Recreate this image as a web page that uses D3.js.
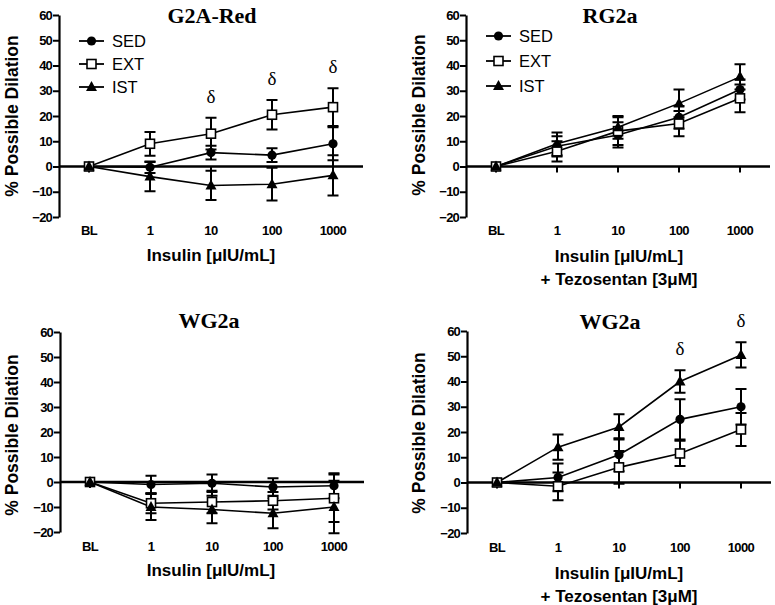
<!DOCTYPE html>
<html><head><meta charset="utf-8">
<script src="https://cdnjs.cloudflare.com/ajax/libs/d3/7.8.5/d3.min.js"></script>
<style>body{margin:0;background:#fff}svg{display:block}</style>
</head><body>
<svg id="c" width="775" height="605"></svg>
<script>
const categories = ["BL","1","10","100","1000"];
const yTicks = [-20,-10,0,10,20,30,40,50,60];
const seriesNames = ["SED","EXT","IST"];

// Panel A: G2A-Red
const aSED = [0, -0.3, 5.5, 4.5, 9];      const aSEDerr = [1, 2.3, 2.7, 2.7, 6.5];
const aEXT = [0, 9, 13, 20.5, 23.5];      const aEXTerr = [1, 4.7, 6.3, 5.8, 7.5];
const aIST = [0, -4, -7.5, -7, -3.5];     const aISTerr = [1, 5.8, 5.8, 6.5, 8];
const aDelta = ["10","100","1000"];

// Panel B: RG2a
const bSED = [0, 8, 12.5, 19.5, 30.5];    const bSEDerr = [1, 4, 5, 4.5, 4];
const bEXT = [0, 6, 14, 17, 27];          const bEXTerr = [1, 4, 5.5, 5, 5.5];
const bIST = [0, 9, 15.5, 25, 35.5];      const bISTerr = [1, 4.5, 4.5, 5.5, 5];

// Panel C: WG2a
const cSED = [0, -1, -0.5, -2, -1.5];     const cSEDerr = [1, 3.5, 3.5, 3.5, 5];
const cEXT = [0, -8.5, -8, -7.5, -6.5];   const cEXTerr = [1, 4, 4.5, 3.5, 9.5];
const cIST = [0, -10, -11, -12.5, -10];   const cISTerr = [1, 5.2, 5.5, 6, 10.5];

// Panel D: WG2a + Tezosentan
const dSED = [0, 2, 11, 25, 30];          const dSEDerr = [1, 5.5, 6.5, 8, 7];
const dEXT = [0, -1.5, 6, 11.5, 21];      const dEXTerr = [1, 5.5, 6.5, 5, 6.5];
const dIST = [0, 14, 22, 40, 50.5];       const dISTerr = [1, 5, 5, 4.5, 5];
const dDelta = ["100","1000"];

const svg = d3.select("#c");
const SANS = "'Liberation Sans', Arial, Helvetica, sans-serif";
const SERIF = "'Liberation Serif', 'Times New Roman', serif";

function panel(cfg){
  const g = svg.append("g");
  const ax = cfg.ax;
  const y = d3.scaleLinear().domain([-20,60]).range([cfg.yb, cfg.yt]);
  const x = d3.scalePoint().domain(categories).range([ax+30, ax+274]);

  // y axis
  const yAxis = d3.axisLeft(y).tickValues(yTicks).tickSize(6).tickSizeOuter(0).tickPadding(1);
  const ga = g.append("g").attr("transform",`translate(${ax},0)`).call(yAxis);
  ga.select(".domain").attr("stroke","#000").attr("stroke-width",2.2);
  ga.selectAll(".tick line").attr("stroke","#000").attr("stroke-width",2);
  ga.selectAll(".tick text").attr("font-family",SANS).attr("font-weight","bold")
    .attr("font-size",13).attr("fill","#000").attr("letter-spacing","-0.8");

  // zero line (x axis)
  g.append("line").attr("x1",ax).attr("x2",ax+304).attr("y1",y(0)).attr("y2",y(0))
    .attr("stroke","#000").attr("stroke-width",2.6);
  // x ticks
  g.selectAll(".xt").data(categories).enter().append("line")
    .attr("x1",d=>x(d)).attr("x2",d=>x(d)).attr("y1",y(0)).attr("y2",y(0)+6)
    .attr("stroke","#000").attr("stroke-width",2);
  // x tick labels
  g.selectAll(".xl").data(categories).enter().append("text")
    .attr("x",d=>x(d)).attr("y",cfg.tickY).attr("text-anchor","middle")
    .attr("font-family",SANS).attr("font-weight","bold").attr("font-size",13)
    .attr("letter-spacing","-0.6").text(d=>d);

  // titles
  g.append("text").attr("x",cfg.titleX).attr("y",cfg.titleY).attr("text-anchor","middle")
    .attr("font-family",SERIF).attr("font-weight","bold").attr("font-size",22).text(cfg.title);
  cfg.xTitle.forEach((t,i)=>{
    g.append("text").attr("x",cfg.xTitleX).attr("y",cfg.xTitleY + i*23).attr("text-anchor","middle")
      .attr("font-family",SANS).attr("font-weight","bold").attr("font-size",17).text(t);
  });
  g.append("text").attr("transform",`translate(${cfg.yTitleX},${cfg.yTitleY}) rotate(-90)`)
    .attr("text-anchor","middle").attr("font-family",SANS).attr("font-weight","bold")
    .attr("font-size",17.5).text("% Possible Dilation");

  const line = d3.line().x((d,i)=>x(categories[i])).y(d=>y(d));
  const shapes = {
    SED: (s,cx,cy)=> s.append("circle").attr("cx",cx).attr("cy",cy).attr("r",4.6).attr("fill","#000"),
    EXT: (s,cx,cy)=> s.append("rect").attr("x",cx-4.5).attr("y",cy-4.5).attr("width",9).attr("height",9)
            .attr("fill","#fff").attr("stroke","#000").attr("stroke-width",1.6),
    IST: (s,cx,cy)=> s.append("path").attr("d",`M${cx},${cy-6}L${cx+5.5},${cy+4}L${cx-5.5},${cy+4}Z`).attr("fill","#000")
  };
  const capW = 5.5;
  cfg.series.forEach(sr=>{
    g.append("path").datum(sr.v).attr("d",line).attr("fill","none").attr("stroke","#000").attr("stroke-width",1.6);
  });
  cfg.series.forEach(sr=>{
    sr.v.forEach((v,i)=>{
      if(i===0) return;
      const cx = x(categories[i]), t = y(v+sr.e[i]), b = y(v-sr.e[i]);
      g.append("path").attr("d",`M${cx},${t}V${b}M${cx-capW},${t}H${cx+capW}M${cx-capW},${b}H${cx+capW}`)
        .attr("stroke","#000").attr("stroke-width",2).attr("fill","none");
    });
  });
  cfg.series.forEach(sr=>{
    sr.v.forEach((v,i)=>{ shapes[sr.name](g, x(categories[i]), y(v)); });
  });

  // deltas
  (cfg.deltas||[]).forEach(c=>{
    const i = categories.indexOf(c);
    let top = d3.max(cfg.series, sr=> sr.v[i]+sr.e[i]);
    g.append("text").attr("x",x(c)).attr("y",y(top)-15).attr("text-anchor","middle")
      .attr("font-family",SERIF).attr("font-size",19).text("δ");
  });

  // legend
  if(cfg.legend){
    const L = cfg.legend;
    seriesNames.forEach((n,k)=>{
      const ly = L.ys[k];
      g.append("line").attr("x1",L.x).attr("x2",L.x+25).attr("y1",ly).attr("y2",ly)
        .attr("stroke","#000").attr("stroke-width",1.8);
      shapes[n](g, L.x+12.5, ly);
      g.append("text").attr("x",L.x+33).attr("y",ly+6).attr("font-family",SANS)
        .attr("font-size",16.5).text(n);
    });
  }
}

panel({ax:59, yt:15, yb:217, tickY:235, title:"G2A-Red", titleX:212, titleY:23,
  xTitle:["Insulin [μIU/mL]"], xTitleX:211, xTitleY:261, yTitleX:18, yTitleY:116,
  series:[{name:"SED",v:aSED,e:aSEDerr},{name:"EXT",v:aEXT,e:aEXTerr},{name:"IST",v:aIST,e:aISTerr}],
  deltas:aDelta, legend:{x:79, ys:[41,64,87]}});

panel({ax:466, yt:15, yb:217, tickY:235, title:"RG2a", titleX:610, titleY:23,
  xTitle:["Insulin [μIU/mL]","+ Tezosentan [3μM]"], xTitleX:619, xTitleY:262, yTitleX:425, yTitleY:115,
  series:[{name:"SED",v:bSED,e:bSEDerr},{name:"EXT",v:bEXT,e:bEXTerr},{name:"IST",v:bIST,e:bISTerr}],
  legend:{x:486, ys:[36,61,86]}});

panel({ax:60, yt:332, yb:532, tickY:551, title:"WG2a", titleX:209, titleY:328,
  xTitle:["Insulin [μIU/mL]"], xTitleX:211, xTitleY:576, yTitleX:18, yTitleY:435,
  series:[{name:"SED",v:cSED,e:cSEDerr},{name:"EXT",v:cEXT,e:cEXTerr},{name:"IST",v:cIST,e:cISTerr}]});

panel({ax:467, yt:331, yb:533, tickY:552, title:"WG2a", titleX:610, titleY:329,
  xTitle:["Insulin [μIU/mL]","+ Tezosentan [3μM]"], xTitleX:619, xTitleY:579, yTitleX:425, yTitleY:433,
  series:[{name:"SED",v:dSED,e:dSEDerr},{name:"EXT",v:dEXT,e:dEXTerr},{name:"IST",v:dIST,e:dISTerr}],
  deltas:dDelta});
</script>
</body></html>
